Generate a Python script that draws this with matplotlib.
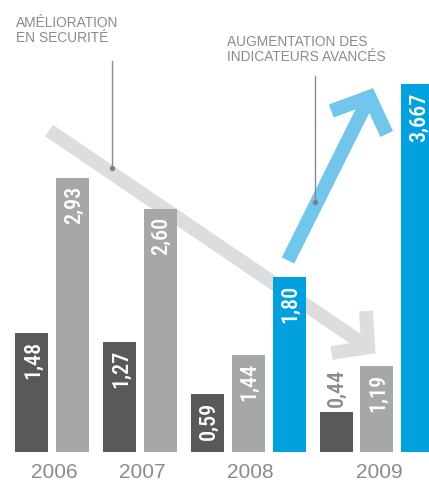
import matplotlib
matplotlib.use("Agg")
import matplotlib.pyplot as plt
import matplotlib.transforms as mtransforms
from matplotlib import font_manager as fm

# valeurs (hauteurs dessinées) et libellés imprimés
years = ["2006", "2007", "2008", "2009"]
dark_heights = [1.185, 1.095, 0.575, 0.395]
dark_labels = ["1,48", "1,27", "0,59", "0,44"]
gray_heights = [2.738, 2.425, 0.965, 0.858]
gray_labels = ["2,93", "2,60", "1,44", "1,19"]
blue_heights = [None, None, 1.745, 3.675]
blue_labels = [None, None, "1,80", "3,667"]

DARK = "#58595b"
GRAY = "#a6a7a9"
BLUE = "#00a1de"
ARROW_GRAY = "#dcdddf"
ARROW_BLUE = "#72c5eb"
TEXT_GRAY = "#8a8b8d"

W, H = 429, 482
BASE = 451.5        # ligne de base en pixels
SCALE = 100.0       # pixels par unité

plt.rcParams["font.family"] = ["Liberation Sans", "DejaVu Sans"]


def pick_narrow_font():
    # police étroite pour les valeurs dans les barres, si disponible
    entries = fm.fontManager.ttflist
    names = {f.name for f in entries}
    for cand in ["Roboto Condensed", "Liberation Sans Narrow", "Open Sans Condensed",
                 "DejaVu Sans Condensed"]:
        if cand in names:
            return dict(family=[cand, "DejaVu Sans"], fontsize=16, fontweight="medium")
    for base in ["Roboto", "DejaVu Sans", "Open Sans"]:
        for f in entries:
            if f.name == base and f.stretch in ("condensed", "semi-condensed"):
                return dict(family=[base], fontstretch=f.stretch, fontsize=16,
                            fontweight="medium")
    return dict(family=["Liberation Sans", "DejaVu Sans"], fontsize=13.5)


NARROW = pick_narrow_font()

fig = plt.figure(figsize=(W / 100, H / 100), dpi=100)
ax = fig.add_axes([0, 0, 1, 1])
ax.set_xlim(0, W)
ax.set_ylim(-(H - BASE) / SCALE, BASE / SCALE)
ax.axis("off")

# repère en pixels (origine en haut à gauche) pour les décorations
px = mtransforms.Affine2D().scale(1 / W, -1 / H).translate(0, 1) + fig.transFigure

# disposition des barres
bar_w = 33
pitch = 40.7
group_gap = 6.5
x0 = 15.3


def draw_bar(slot, group, height, label, color, label_inside=True):
    left = x0 + slot * pitch + group * group_gap
    ax.bar(left, height, width=bar_w, align="edge", color=color, zorder=3)
    cx = left + bar_w / 2
    if label_inside:
        ax.annotate(label, (cx, height), xytext=(1, -8), textcoords="offset pixels",
                    rotation=90, ha="center", va="top", color="white", zorder=4, **NARROW)
    else:
        ax.annotate(label, (cx, height), xytext=(0, 5), textcoords="offset pixels",
                    rotation=90, ha="center", va="bottom", color=TEXT_GRAY, zorder=4, **NARROW)
    return cx


year_tr = mtransforms.blended_transform_factory(ax.transData, px)
slot = 0
for g, year in enumerate(years):
    centers = []
    centers.append(draw_bar(slot, g, dark_heights[g], dark_labels[g], DARK,
                            label_inside=dark_heights[g] > 0.5))
    slot += 1
    centers.append(draw_bar(slot, g, gray_heights[g], gray_labels[g], GRAY))
    slot += 1
    if blue_heights[g] is not None:
        centers.append(draw_bar(slot, g, blue_heights[g], blue_labels[g], BLUE))
        slot += 1
    if len(centers) == 3:
        xc = centers[1]
    else:
        xc = (centers[0] + centers[1]) / 2
    ax.text(xc + 2.5, 478, year, transform=year_tr, ha="center", va="baseline",
            fontsize=15, color=TEXT_GRAY)


def draw_arrow(start, vertex, arm1, arm2, color):
    lw = 10
    ax.plot([start[0], vertex[0]], [start[1], vertex[1]], transform=px, color=color,
            lw=lw, solid_capstyle="butt", zorder=1)
    ax.plot([arm1[0], vertex[0], arm2[0]], [arm1[1], vertex[1], arm2[1]], transform=px,
            color=color, lw=lw, solid_capstyle="butt", solid_joinstyle="miter", zorder=1)


# flèche grise descendante et flèche bleue montante
draw_arrow((49, 130.5), (368.2, 347.4), (366, 311), (331.5, 353), ARROW_GRAY)
draw_arrow((288, 260.5), (369.5, 96.9), (331.3, 111), (386.7, 134), ARROW_BLUE)

# lignes de rappel
for x, y_top, y_dot in [(112, 60.7, 168.3), (315, 76, 202.3)]:
    ax.plot([x, x], [y_top, y_dot], transform=px, color=TEXT_GRAY, lw=1.0, zorder=2)
    ax.plot([x], [y_dot], transform=px, marker="o", ms=3.8, color="#7d7e80",
            mec="none", zorder=2)

ax.text(16, 41.7, "AMÉLIORATION\nEN SECURITÉ", transform=px, ha="left", va="baseline",
        fontsize=9.9, color=TEXT_GRAY, linespacing=1.1)
ax.text(227.3, 60.7, "AUGMENTATION DES\nINDICATEURS AVANCÉS", transform=px, ha="left",
        va="baseline", fontsize=9.9, color=TEXT_GRAY, linespacing=1.1)

fig.savefig("out.png", dpi=100, facecolor="white")
